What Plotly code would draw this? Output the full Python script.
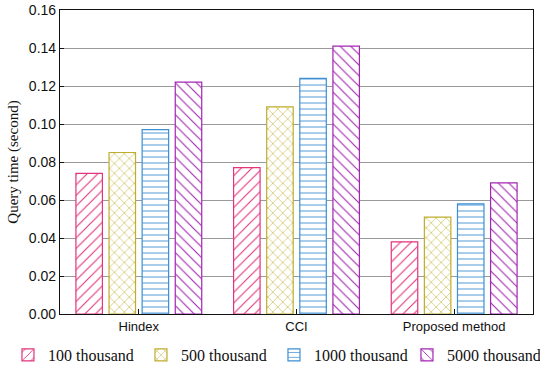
import plotly.graph_objects as go

categories = ["Hindex", "CCI", "Proposed method"]
series_names = ["100 thousand", "500 thousand", "1000 thousand", "5000 thousand"]
values_100k = [0.074, 0.077, 0.038]
values_500k = [0.085, 0.109, 0.051]
values_1000k = [0.097, 0.124, 0.058]
values_5000k = [0.122, 0.141, 0.069]
y_ticks = [0.00, 0.02, 0.04, 0.06, 0.08, 0.10, 0.12, 0.14, 0.16]

series_values = [values_100k, values_500k, values_1000k, values_5000k]
colors = ["#e2357c", "#bfad2c", "#3d8fd3", "#a326b3"]
shapes = ["/", "x", "-", "\\"]
sizes = [7.5, 7, 6, 7.5]

fig = go.Figure()
for name, vals, c, sh, sz in zip(series_names, series_values, colors, shapes, sizes):
    fig.add_trace(go.Bar(
        x=categories, y=vals, name=name,
        marker=dict(color="white", line=dict(color=c, width=1.2),
                    pattern=dict(shape=sh, fgcolor=c, bgcolor="white", fgopacity=1,
                                 size=sz, solidity=0.15, fillmode="overlay")),
    ))

fig.update_layout(
    width=550, height=372,
    margin=dict(l=60, r=17, t=10, b=58, autoexpand=False),
    paper_bgcolor="white", plot_bgcolor="white",
    barmode="group", bargap=0.16, bargroupgap=0.2,
    showlegend=True,
    legend=dict(orientation="h", x=-0.11, xanchor="left", y=-0.135, yanchor="middle",
                font=dict(family="Liberation Serif", size=16, color="#111"),
                entrywidth=88, entrywidthmode="pixels",
                itemwidth=30, tracegroupgap=0, bgcolor="rgba(0,0,0,0)"),
    font=dict(family="Liberation Sans", color="#111"),
)
fig.update_xaxes(
    range=[-0.5, 2.5], showline=True, mirror=True, linecolor="#111", linewidth=1.2,
    ticks="inside", ticklen=5, tickcolor="#111", tickfont=dict(size=13, family="Liberation Sans"),
    showgrid=False, zeroline=False,
)
fig.update_yaxes(
    range=[0, 0.16], tickvals=y_ticks, tickformat=".2f",
    showline=True, mirror=True, linecolor="#111", linewidth=1.2,
    ticks="inside", ticklen=4, tickcolor="#111", tickfont=dict(size=14, family="Liberation Sans"),
    showgrid=True, gridcolor="#9a9a9a", gridwidth=1, zeroline=False,
    title=dict(text="Query time (second)", font=dict(family="Liberation Serif", size=15, color="#111"), standoff=6),
)
fig.write_html("out.html", config={"displayModeBar": False},
               post_script="document.body.style.margin='0';document.body.style.padding='0';")
